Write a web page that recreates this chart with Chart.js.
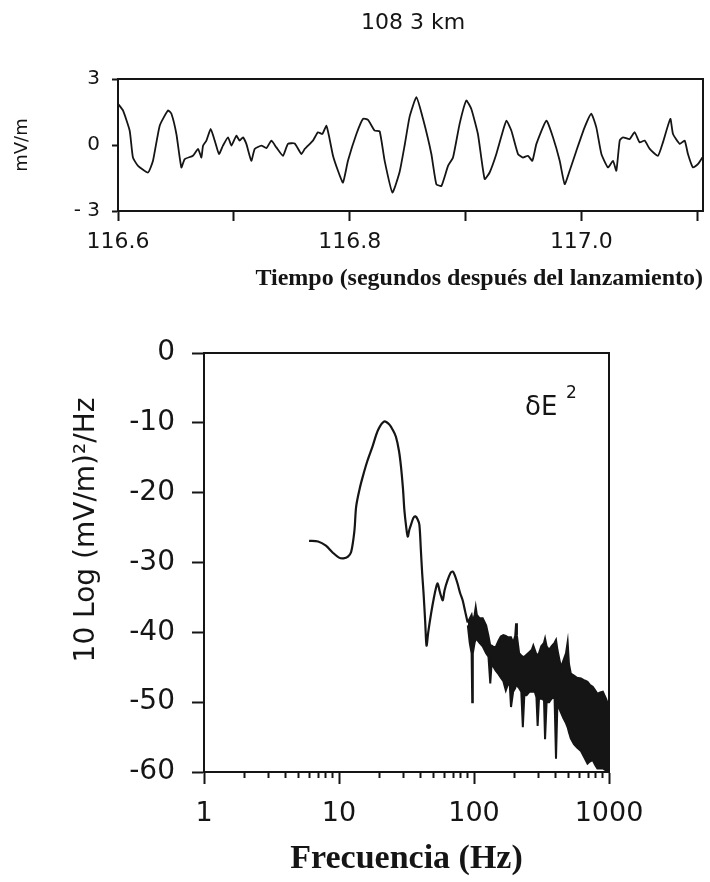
<!DOCTYPE html>
<html>
<head>
<meta charset="utf-8">
<script src="https://cdn.jsdelivr.net/npm/chart.js@4.4.1/dist/chart.umd.min.js"></script>
<style>
html,body{margin:0;padding:0;background:#fff;}
#wrap{position:relative;width:710px;height:882px;overflow:hidden;}
#c1box{position:absolute;left:0;top:0;width:710px;height:300px;}
#c2box{position:absolute;left:0;top:300px;width:710px;height:582px;}
</style>
</head>
<body>
<div id="wrap">
  <div id="c1box"><canvas id="c1"></canvas></div>
  <div id="c2box"><canvas id="c2"></canvas></div>
</div>
<script>
// ---------- DATA: upper panel (field vs time) ----------
const timeSec = [
  116.6000,116.6043,116.6101,116.6129,116.6173,116.6259,116.6302,116.6360,116.6432,116.6461,
  116.6504,116.6547,116.6576,116.6647,116.6691,116.6720,116.6734,116.6763,116.6800,116.6835,
  116.6872,116.6906,116.6950,116.6979,116.7022,116.7050,116.7079,116.7108,116.7151,116.7180,
  116.7238,116.7281,116.7324,116.7367,116.7424,116.7467,116.7525,116.7583,116.7612,116.7683,
  116.7726,116.7764,116.7799,116.7821,116.7856,116.7899,116.7942,116.7985,116.8058,116.8115,
  116.8158,116.8216,116.8259,116.8302,116.8369,116.8432,116.8475,116.8518,116.8576,116.8633,
  116.8705,116.8748,116.8792,116.8849,116.8892,116.8949,116.9007,116.9050,116.9107,116.9165,
  116.9208,116.9266,116.9323,116.9353,116.9396,116.9453,116.9496,116.9539,116.9577,116.9612,
  116.9698,116.9755,116.9813,116.9856,116.9899,116.9957,117.0028,117.0086,117.0129,117.0173,
  117.0230,117.0273,117.0302,117.0331,117.0359,117.0417,117.0460,117.0503,117.0546,117.0590,
  117.0661,117.0704,117.0768,117.0791,117.0849,117.0892,117.0920,117.0963,117.1006,117.1044
];
const fieldMVm = [
  1.87,1.57,0.65,-0.57,-0.95,-1.25,-0.72,0.88,1.57,1.42,
  0.5,-1.02,-0.64,-0.49,-0.18,-0.57,-0.03,0.2,0.73,0.2,
  -0.41,-0.03,0.35,-0.03,0.42,0.2,0.35,0.05,-0.72,-0.18,
  -0.03,-0.14,0.2,-0.11,-0.49,0.05,0.07,-0.41,-0.18,0.2,
  0.58,0.5,0.88,0.42,-0.49,-1.17,-1.71,-0.72,0.5,1.19,
  1.14,0.65,0.62,-0.72,-2.16,-1.2,0.0,1.3,2.17,1.19,
  -0.41,-1.78,-1.86,-0.95,-0.57,0.96,2.02,1.64,0.5,-1.55,
  -1.25,-0.41,0.65,1.11,0.65,-0.41,-0.57,-0.49,-0.72,0.05,
  1.11,0.35,-0.72,-1.78,-1.17,-0.26,0.8,1.42,0.8,-0.41,
  -1.02,-0.72,-1.17,0.2,0.35,0.27,0.58,0.12,0.2,-0.18,
  -0.49,0.12,1.19,0.5,0.05,0.2,-0.41,-1.02,-0.87,-0.57
];
const timeTickValues = [116.6,116.7,116.8,116.9,117.0,117.1];
const timeTickLabels = ['116.6','','116.8','','117.0',''];
const fieldTickValues = [-3,0,3];
const fieldTickLabels = ['- 3','0','3'];

// ---------- DATA: lower panel (spectrum) ----------
const freqHz = [
  6.0,7.0,8.0,9.0,10.0,10.8,11.6,12.3,13.0,13.4,
  14.2,15.0,16.2,17.7,19.5,21.6,23.5,25.0,26.4,27.8,
  28.8,29.8,30.5,31.5,32.3,33.2,34.4,35.6,36.8,38.2,
  39.4,40.4,41.3,42.3,43.5,44.5,45.8,48.1,50.5,52.5,
  53.8,55.5,57.0,58.7,60.5,63.8,67.0,69.5,72.0,75.5,
  79.0,82.4,86.0,89.5,90.0
];
const psdDb = [
  -26.9,-27.0,-27.6,-28.6,-29.3,-29.4,-29.2,-28.5,-25.5,-22.0,
  -19.5,-17.7,-15.5,-13.4,-11.0,-9.8,-10.2,-11.0,-12.0,-14.0,
  -16.3,-19.5,-22.5,-25.0,-26.3,-25.3,-24.4,-23.6,-23.4,-23.8,
  -24.6,-28.2,-31.5,-34.4,-38.5,-41.9,-40.0,-37.3,-35.0,-33.5,
  -33.0,-34.0,-34.8,-35.4,-34.0,-32.5,-31.5,-31.3,-31.8,-33.0,
  -34.4,-35.4,-37.0,-38.5,-38.6
];
const bandFreqHz = [
  90,93,96,97,98,101,103,105,110,116,
  123,128,132,135,140,145,152,158,165,172,
  178,184,188,195,202,205,208,216,224,230,
  236,245,258,268,275,282,290,296,303,315,
  330,336,345,360,375,395,405,415,430,441,
  460,480,494,505,521,550,580,620,660,693,
  720,757,790,820,860,900,950,1000
];
const bandUpperDb = [
  -38.5,-38.0,-37.5,-38.0,-38.5,-37.5,-36.4,-37.5,-38.0,-38.0,
  -39.0,-40.5,-41.9,-41.9,-42.1,-42.1,-41.2,-40.6,-40.4,-40.5,
  -40.7,-40.7,-40.7,-41.5,-40.5,-38.7,-40.5,-43.0,-43.3,-43.5,
  -43.5,-43.2,-42.8,-42.5,-41.9,-42.5,-43.2,-43.2,-43.0,-42.0,
  -41.5,-40.9,-42.0,-42.5,-42.0,-41.5,-41.1,-42.5,-44.0,-45.0,
  -44.0,-43.0,-41.4,-44.5,-45.9,-46.2,-46.5,-46.6,-46.9,-47.1,
  -47.5,-47.8,-48.3,-48.8,-48.6,-48.5,-49.5,-50.7
];
const bandLowerDb = [
  -39.0,-41.5,-43.0,-50.0,-43.0,-41.5,-41.0,-41.0,-41.5,-42.0,
  -43.0,-43.5,-47.3,-44.5,-45.0,-45.5,-46.0,-46.5,-47.0,-48.3,
  -47.5,-47.5,-50.7,-48.5,-48.0,-47.5,-47.5,-48.0,-48.5,-53.6,
  -49.0,-49.0,-48.5,-48.5,-48.5,-48.5,-49.3,-53.4,-49.5,-49.5,
  -49.7,-55.3,-50.0,-50.0,-49.5,-49.3,-58.1,-50.0,-51.0,-51.5,
  -52.3,-53.0,-53.6,-54.3,-55.2,-56.0,-56.5,-57.0,-58.0,-58.8,
  -58.5,-58.3,-59.0,-59.5,-59.5,-59.5,-59.8,-59.8
];
const freqTickValues = [1,2,3,4,5,6,7,8,9,10,20,30,40,50,60,70,80,90,100,200,300,400,500,600,700,800,900,1000];
const freqTickLabels = {1:'1',10:'10',100:'100',1000:'1000'};
const dbTickValues = [-60,-50,-40,-30,-20,-10,0];

// ---------- helpers ----------
const INK = '#151515';
const SANS = "'DejaVu Sans', sans-serif";
const SERIF = "'Liberation Serif', 'DejaVu Serif', serif";
const pts = (xs, ys) => xs.map((x, i) => ({x: x, y: ys[i]}));

const framePlugin = {
  id: 'frame',
  afterDraw(chart) {
    const a = chart.chartArea, ctx = chart.ctx;
    ctx.save();
    ctx.strokeStyle = INK;
    ctx.lineWidth = 2;
    ctx.strokeRect(a.left, a.top, a.right - a.left, a.bottom - a.top);
    ctx.restore();
  }
};

// ---------- upper chart ----------
new Chart(document.getElementById('c1'), {
  type: 'line',
  data: {
    datasets: [{
      data: pts(timeSec, fieldMVm),
      borderColor: INK, borderWidth: 1.8, pointRadius: 0, tension: 0.15, fill: false
    }]
  },
  options: {
    responsive: true, maintainAspectRatio: false, animation: false,
    layout: {padding: {top: 79, right: 7, left: 0, bottom: 0}},
    plugins: {legend: {display: false}, tooltip: {enabled: false}},
    scales: {
      x: {
        type: 'linear', min: 116.6, max: 117.105,
        afterBuildTicks: s => { s.ticks = timeTickValues.map(v => ({value: v})); },
        afterFit: s => { s.height = 89; },
        ticks: {
          autoSkip: false, maxRotation: 0, padding: 8, color: INK,
          font: {family: SANS, size: 22},
          callback: (v, i) => timeTickLabels[i]
        },
        grid: {drawOnChartArea: false, drawTicks: true, tickLength: 10, tickWidth: 2, tickColor: INK},
        border: {display: true, width: 2, color: INK},
        title: {
          display: true, text: 'Tiempo (segundos después del lanzamiento)', align: 'end',
          color: INK, font: {family: SERIF, size: 24, weight: 'bold'}, padding: {top: 0, bottom: 7}
        }
      },
      y: {
        type: 'linear', min: -3, max: 3,
        afterBuildTicks: s => { s.ticks = fieldTickValues.map(v => ({value: v})); },
        afterFit: s => { s.width = 118; },
        ticks: {
          autoSkip: false, padding: 12, color: INK,
          font: {family: SANS, size: 20},
          callback: (v, i) => fieldTickLabels[i]
        },
        grid: {drawOnChartArea: false, drawTicks: true, tickLength: 6, tickWidth: 2, tickColor: INK},
        border: {display: true, width: 2, color: INK},
        title: {
          display: true, text: 'mV/m', color: INK,
          font: {family: SANS, size: 18}, padding: {top: 12, bottom: 0}
        }
      }
    }
  },
  plugins: [framePlugin, {
    id: 'topTitle',
    afterDraw(chart) {
      const ctx = chart.ctx;
      ctx.save();
      ctx.fillStyle = INK;
      ctx.font = "22px " + SANS;
      ctx.textAlign = 'center';
      ctx.textBaseline = 'alphabetic';
      ctx.fillText('108 3 km', 413, 29);
      ctx.restore();
    }
  }]
});

// ---------- lower chart ----------
new Chart(document.getElementById('c2'), {
  type: 'line',
  data: {
    datasets: [
      {data: pts(freqHz, psdDb), borderColor: INK, borderWidth: 2.2, pointRadius: 0, tension: 0.3, fill: false},
      {data: pts(bandFreqHz, bandUpperDb), borderColor: INK, borderWidth: 2, pointRadius: 0, tension: 0, fill: false},
      {data: pts(bandFreqHz, bandLowerDb), borderColor: INK, borderWidth: 2, pointRadius: 0, tension: 0,
       fill: '-1', backgroundColor: INK}
    ]
  },
  options: {
    responsive: true, maintainAspectRatio: false, animation: false,
    layout: {padding: {top: 53, right: 101, left: 0, bottom: 0}},
    plugins: {legend: {display: false}, tooltip: {enabled: false}},
    scales: {
      x: {
        type: 'logarithmic', min: 1, max: 1000,
        afterBuildTicks: s => { s.ticks = freqTickValues.map(v => ({value: v})); },
        afterFit: s => { s.height = 110; },
        ticks: {
          autoSkip: false, maxRotation: 0, padding: 14, color: INK,
          font: {family: SANS, size: 27},
          callback: v => freqTickLabels[v] || ''
        },
        grid: {
          drawOnChartArea: false, drawTicks: true, tickLength: 12, tickWidth: 2, tickColor: INK,
          tickBorderDash: ctx => (freqTickLabels[ctx.tick && ctx.tick.value] ? [] : [5, 100])
        },
        border: {display: true, width: 2, color: INK},
        title: {
          display: true, text: 'Frecuencia (Hz)', align: 'center',
          color: INK, font: {family: SERIF, size: 34, weight: 'bold'}, padding: {top: 0, bottom: 2}
        }
      },
      y: {
        type: 'linear', min: -60, max: 0,
        afterBuildTicks: s => { s.ticks = dbTickValues.map(v => ({value: v})); },
        afterFit: s => { s.width = 204; },
        ticks: {
          autoSkip: false, padding: 17, color: INK,
          font: {family: SANS, size: 28},
          callback: v => String(v)
        },
        grid: {drawOnChartArea: false, drawTicks: true, tickLength: 12, tickWidth: 2, tickColor: INK},
        border: {display: true, width: 2, color: INK}
      }
    }
  },
  plugins: [framePlugin, {
    id: 'labels2',
    afterDraw(chart) {
      const ctx = chart.ctx;
      ctx.save();
      ctx.fillStyle = INK;
      ctx.translate(94, 230);
      ctx.rotate(-Math.PI / 2);
      ctx.font = "28px " + SANS;
      ctx.textAlign = 'center';
      ctx.textBaseline = 'alphabetic';
      ctx.fillText('10 Log (mV/m)²/Hz', 0, 0);
      ctx.restore();
      ctx.save();
      ctx.fillStyle = INK;
      ctx.textAlign = 'left';
      ctx.textBaseline = 'alphabetic';
      ctx.font = "26px " + SANS;
      ctx.fillText('δE', 525, 115);
      ctx.font = "17px " + SANS;
      ctx.fillText('2', 566, 98);
      ctx.restore();
    }
  }]
});
</script>
</body>
</html>
